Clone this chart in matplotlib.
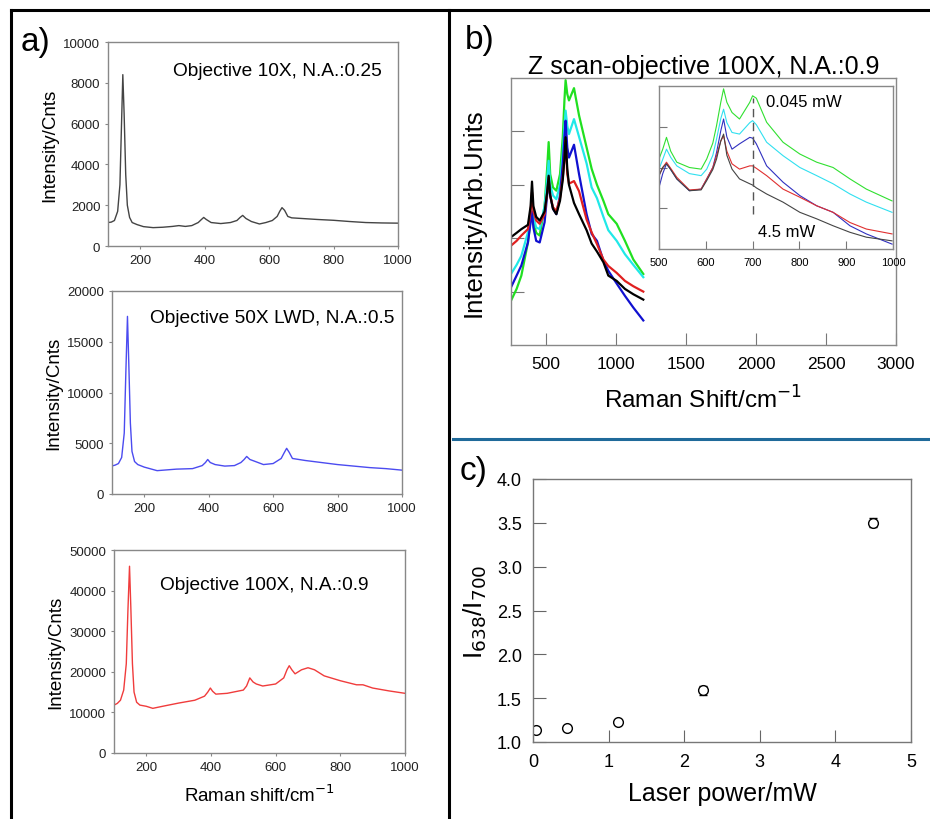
import numpy as np
import matplotlib
matplotlib.use("Agg")
import matplotlib.pyplot as plt
from matplotlib.lines import Line2D

plt.rcParams['font.family'] = ['Liberation Sans', 'DejaVu Sans']

# ---- panel a: spectra (Raman shift, counts) ----
x10 = [100, 110, 120, 130, 137, 142, 146, 150, 155, 160, 167, 175, 190, 210, 240, 270, 300, 320,
       340, 360, 380, 390, 397, 405, 420, 450, 480, 500, 510, 518, 528, 545, 570, 590, 610, 625,
       633, 640, 648, 658, 670, 700, 750, 800, 850, 900, 950, 1000]
y10 = [1150, 1170, 1250, 1700, 3000, 6000, 8400, 6500, 3500, 2000, 1400, 1150, 1050, 950, 900, 920,
       960, 1000, 960, 1000, 1150, 1300, 1400, 1300, 1150, 1100, 1150, 1250, 1400, 1500, 1350, 1200,
       1080, 1150, 1250, 1450, 1700, 1880, 1750, 1450, 1380, 1350, 1300, 1260, 1200, 1150, 1130, 1120]

x50 = [100, 110, 120, 130, 138, 143, 148, 152, 157, 162, 170, 180, 200, 240, 300, 350, 380, 390,
       397, 405, 420, 450, 480, 500, 510, 518, 528, 545, 570, 600, 625, 635, 642, 650, 660, 700,
       750, 800, 850, 900, 950, 1000]
y50 = [2760, 2850, 3000, 3600, 6000, 12000, 17500, 13000, 7000, 4200, 3200, 2900, 2650, 2300, 2450,
       2500, 2800, 3100, 3400, 3100, 2900, 2750, 2800, 3100, 3400, 3700, 3400, 3200, 2900, 3000,
       3500, 4100, 4500, 4100, 3500, 3300, 3100, 2900, 2750, 2600, 2500, 2350]

x100 = [100, 110, 120, 130, 138, 143, 148, 152, 157, 162, 170, 180, 200, 220, 250, 300, 350, 380,
        390, 398, 405, 415, 450, 500, 510, 520, 530, 540, 560, 600, 625, 635, 642, 650, 660, 680,
        700, 720, 750, 800, 850, 870, 900, 950, 1000]
y100 = [11800, 12200, 13000, 15500, 22000, 35000, 46000, 36000, 22000, 15000, 12500, 11800, 11500,
        11000, 11500, 12300, 13000, 14000, 15000, 16000, 15200, 14500, 14700, 15500, 16500, 18500,
        17500, 17000, 16500, 17000, 18500, 20500, 21500, 20500, 19500, 20500, 21000, 20500, 19000,
        17800, 16800, 16800, 16000, 15300, 14700]

# ---- panel b: Z scan spectra (arb. units) ----
xb = [250, 290, 324, 371, 390, 400, 410, 430, 455, 490, 508, 519, 530, 550, 574, 600, 620, 632,
      640, 652, 664, 700, 736, 790, 826, 864, 910, 945, 1005, 1064, 1124, 1195]
b_black = [2.02, 2.1, 2.17, 2.25, 2.6, 3.06, 2.6, 2.4, 2.33, 2.5, 2.85, 3.17, 2.8, 2.55, 2.45, 2.7,
           3.1, 3.5, 3.89, 3.3, 3.0, 2.66, 2.45, 2.15, 1.9, 1.75, 1.55, 1.3, 1.2, 1.05, 0.95, 0.85]
b_red = [1.86, 1.95, 2.05, 2.17, 2.5, 2.86, 2.5, 2.33, 2.27, 2.45, 2.85, 3.14, 2.8, 2.58, 2.51, 2.75,
         3.15, 3.5, 3.83, 3.2, 3.02, 3.07, 2.88, 2.35, 2.11, 1.89, 1.6, 1.48, 1.35, 1.2, 1.1, 1.0]
b_blue = [1.08, 1.3, 1.49, 1.92, 2.3, 2.5, 2.2, 1.95, 1.92, 2.3, 2.8, 3.08, 2.8, 2.55, 2.45, 2.8,
          3.4, 3.9, 4.2, 3.7, 3.51, 3.75, 3.2, 2.45, 2.08, 1.95, 1.58, 1.39, 1.15, 0.92, 0.7, 0.46]
b_cyan = [1.33, 1.5, 1.67, 2.11, 2.45, 2.6, 2.4, 2.2, 2.17, 2.6, 3.1, 3.45, 3.0, 2.8, 2.73, 3.0,
          3.6, 4.1, 4.39, 4.1, 3.95, 4.23, 3.9, 3.4, 2.95, 2.75, 2.4, 2.15, 1.95, 1.7, 1.5, 1.27]
b_green = [0.83, 1.05, 1.3, 1.92, 2.35, 2.58, 2.3, 2.1, 2.05, 2.6, 3.3, 3.8, 3.2, 2.95, 2.89, 3.2,
           3.9, 4.6, 4.96, 4.7, 4.58, 4.81, 4.3, 3.7, 3.3, 3.0, 2.7, 2.45, 2.27, 1.95, 1.6, 1.33]

# inset, 500-1000 cm-1
xi = [500, 508, 516, 525, 538, 565, 590, 602, 615, 623, 632, 638, 645, 656, 672, 694, 700, 708, 730,
      765, 801, 837, 872, 908, 943, 998]
i_green = [2.21, 2.45, 2.74, 2.4, 2.13, 2.0, 1.96, 2.21, 2.6, 3.03, 3.6, 3.93, 3.6, 3.35, 3.19, 3.6,
           3.76, 3.7, 3.11, 2.62, 2.33, 2.13, 2.0, 1.72, 1.47, 1.18]
i_cyan = [1.96, 2.2, 2.45, 2.25, 2.04, 1.85, 1.8, 1.96, 2.3, 2.7, 3.2, 3.43, 3.1, 2.86, 2.82, 3.1,
          3.15, 3.05, 2.62, 2.29, 2.0, 1.8, 1.6, 1.35, 1.15, 0.9]
i_blue = [1.51, 1.85, 2.09, 1.95, 1.72, 1.43, 1.47, 1.72, 2.0, 2.37, 2.9, 3.19, 2.75, 2.45, 2.58,
          2.74, 2.72, 2.58, 2.04, 1.64, 1.31, 1.06, 0.9, 0.57, 0.37, 0.12]
i_red = [1.8, 2.0, 2.13, 1.98, 1.76, 1.45, 1.47, 1.72, 2.0, 2.29, 2.65, 2.78, 2.4, 2.09, 1.96, 2.04,
         2.04, 1.98, 1.8, 1.47, 1.27, 1.06, 0.9, 0.65, 0.49, 0.37]
i_black = [1.8, 2.0, 2.09, 1.95, 1.72, 1.43, 1.45, 1.68, 1.95, 2.21, 2.65, 2.82, 2.3, 1.96, 1.72,
           1.6, 1.57, 1.5, 1.35, 1.15, 0.9, 0.74, 0.57, 0.41, 0.29, 0.2]

# ---- panel c: intensity ratio vs laser power ----
power = [0.045, 0.45, 1.125, 2.25, 4.5]
ratio = [1.14, 1.16, 1.23, 1.59, 3.5]
ratio_err = [0.02, 0.02, 0.02, 0.05, 0.05]

W, H = 930, 820
fig = plt.figure(figsize=(W / 100, H / 100), dpi=100)


def box(l, t, r, b):
    return [l / W, 1 - b / H, (r - l) / W, (b - t) / H]


def style(ax, color='#888888'):
    for s in ax.spines.values():
        s.set_color(color)
        s.set_linewidth(1)


# frame lines
frame = dict(color='black', lw=2.2, transform=fig.transFigure)
fig.add_artist(Line2D([11 / W, 1], [1 - 11 / H, 1 - 11 / H], **frame))
fig.add_artist(Line2D([11 / W, 11 / W], [0, 1 - 11 / H], **frame))
fig.add_artist(Line2D([449 / W, 449 / W], [0, 1 - 11 / H], **frame))
fig.add_artist(Line2D([453 / W, 1], [1 - 440 / H, 1 - 440 / H], color='#1f6a9a', lw=2.2,
                      transform=fig.transFigure))

# ---- panel a ----
specs = [
    (x10, y10, '#444444', 10000, 2000, 'Objective 10X, N.A.:0.25', box(108, 43, 398, 247),
     (0.945, 0.86, 'right')),
    (x50, y50, '#4b4bf0', 20000, 5000, 'Objective 50X LWD, N.A.:0.5', box(112, 292, 402, 495),
     (0.975, 0.87, 'right')),
    (x100, y100, '#f03c3c', 50000, 10000, 'Objective 100X, N.A.:0.9', box(114, 551, 405, 754),
     (0.515, 0.83, 'center')),
]
for k, (xs, ys, col, ymax, ystep, note, pos, tpos) in enumerate(specs):
    ax = fig.add_axes(pos)
    ax.plot(xs, ys, color=col, lw=1)
    ax.set_xlim(100, 1000)
    ax.set_ylim(0, ymax)
    ax.set_xticks([200, 400, 600, 800, 1000])
    ax.set_yticks(np.arange(0, ymax + 1, ystep))
    ax.tick_params(labelsize=9.5, length=2, color='#888888', labelcolor='#222222')
    ax.set_ylabel('Intensity/Cnts', fontsize=13.5, labelpad=4)
    ax.text(tpos[0], tpos[1], note, transform=ax.transAxes, fontsize=13.8,
            ha=tpos[2], va='center')
    style(ax)
    if k == 2:
        ax.set_xlabel('Raman shift/cm$^{-1}$', fontsize=13.5, labelpad=8)

fig.text(21 / W, 1 - 42 / H, 'a)', fontsize=24, va='center')
fig.text(465 / W, 1 - 40 / H, 'b)', fontsize=24, va='center')
fig.text(460 / W, 1 - 472 / H, 'c)', fontsize=24, va='center')

# ---- panel b ----
colors = ['black', '#e02020', '#1010d0', '#20e8e8', '#20e020']
axb = fig.add_axes(box(511, 79, 896, 346))
for ys, col in zip([b_green, b_cyan, b_blue, b_red, b_black], colors[::-1]):
    axb.plot(xb, ys, color=col, lw=1.6)
axb.set_xlim(250, 3000)
axb.set_ylim(0, 5)
axb.set_xticks([500, 1000, 1500, 2000, 2500, 3000])
axb.set_yticks([1, 2, 3, 4])
axb.set_yticklabels([])
axb.tick_params(direction='in', length=9, color='#777777', labelsize=12.5, pad=8)
axb.set_xlabel('Raman Shift/cm$^{-1}$', fontsize=17.5, labelpad=10)
axb.set_ylabel('Intensity/Arb.Units', fontsize=18.5, labelpad=10)
axb.set_title('Z scan-objective 100X, N.A.:0.9', fontsize=18, pad=3)
style(axb)

axi = fig.add_axes(box(659, 87, 893, 250))
for ys, col in zip([i_green, i_cyan, i_blue, i_red, i_black],
                   ['#30e030', '#30e0f0', '#3030c0', '#e03030', '#444444']):
    axi.plot(xi, ys, color=col, lw=0.8)
axi.set_xlim(500, 1000)
axi.set_ylim(0, 4)
axi.set_xticks([500, 600, 700, 800, 900, 1000])
axi.set_yticks([1, 2, 3])
axi.set_yticklabels([])
axi.tick_params(direction='in', length=6, color='#777777', labelsize=8, pad=6)
axi.plot([700, 700], [0.85, 3.7], color='#555555', lw=1, ls=(0, (6, 4)))
axi.text(728, 3.62, '0.045 mW', fontsize=12, va='center')
axi.text(712, 0.42, '4.5 mW', fontsize=12, va='center')
style(axi)

# ---- panel c ----
axc = fig.add_axes(box(533, 480, 911, 743))
axc.errorbar(power, ratio, yerr=ratio_err, fmt='o', mfc='white', mec='black', ms=7,
             ecolor='black', elinewidth=1, capsize=3, mew=1)
axc.set_xlim(0, 5)
axc.set_ylim(1.0, 4.0)
axc.set_xticks([0, 1, 2, 3, 4, 5])
axc.set_yticks(np.arange(1.0, 4.01, 0.5))
axc.yaxis.set_major_formatter(matplotlib.ticker.FormatStrFormatter('%.1f'))
axc.tick_params(direction='in', length=9, color='#666666', labelsize=13, pad=8)
axc.set_xlabel('Laser power/mW', fontsize=18, labelpad=8)
axc.set_ylabel('I$_{638}$/I$_{700}$', fontsize=19, labelpad=6)
style(axc, '#777777')

fig.savefig('out.png', dpi=100)
